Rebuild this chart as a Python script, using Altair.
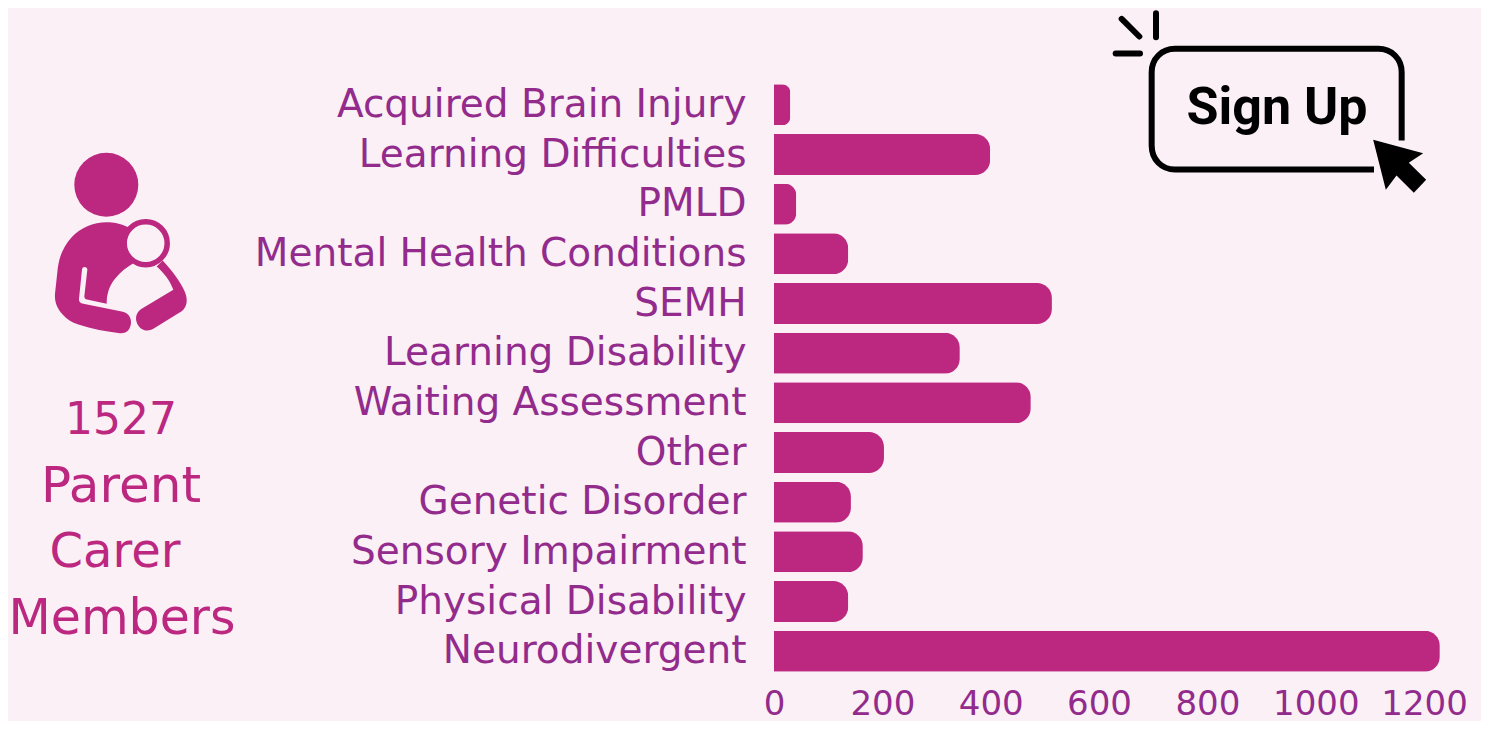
import altair as alt
import pandas as pd

categories = ["Acquired Brain Injury", "Learning Difficulties", "PMLD", "Mental Health Conditions",
              "SEMH", "Learning Disability", "Waiting Assessment", "Other", "Genetic Disorder",
              "Sensory Impairment", "Physical Disability", "Neurodivergent"]
values = [30, 399, 41, 137, 513, 343, 474, 203, 142, 164, 137, 1229]
x_ticks = [0, 200, 400, 600, 800, 1000, 1200]
members_lines = ["1527", "Parent", "Carer", "Members"]
members_x = [121, 121, 115, 122]
members_y = [421, 487, 553, 619]
members_size = [44, 50, 48, 49]

BG = "#FAF0F5"
BAR = "#BC2780"
LABEL = "#922B8C"
FONT = "DejaVu Sans"
OX, OY = 774, 80  # page position of the plot origin


def page_x(v):
    return alt.value(v - OX)


def page_y(v):
    return alt.value(v - OY)


one = alt.Data(values=[{"a": 1}])
df = pd.DataFrame({"category": categories, "value": values})

bars = alt.Chart(df).mark_bar(color=BAR, cornerRadiusTopRight=15, cornerRadiusBottomRight=15).encode(
    x=alt.X("value:Q", scale=alt.Scale(domain=[0, 1305], nice=False),
            axis=alt.Axis(values=x_ticks, format="d", title=None, grid=False, domain=False, ticks=False,
                          labelFont=FONT, labelFontSize=34, labelColor=LABEL, labelPadding=11,
                          labelOverlap=False, labelFlush=False)),
    y=alt.Y("category:N", sort=categories, scale=alt.Scale(paddingInner=0.175, paddingOuter=0.0875),
            axis=alt.Axis(title=None, grid=False, domain=False, ticks=False,
                          labelFont=FONT, labelFontSize=39, labelColor=LABEL, labelPadding=28,
                          labelLimit=700)),
)

members = alt.Chart(pd.DataFrame({"t": members_lines, "px": [v - OX for v in members_x],
                                  "py": [v - OY for v in members_y], "s": members_size})).mark_text(
    font=FONT, color=BAR, align="center", baseline="middle").encode(
    text="t:N",
    x=alt.X("px:Q", scale=None),
    y=alt.Y("py:Q", scale=None),
    size=alt.Size("s:Q", scale=None, legend=None),
)


def path_mark(path, ox, oy, **kw):
    # size 4/9 draws the path at one third of its written units (zoom-crop units)
    return alt.Chart(one).mark_point(shape=path, size=4 / 9, opacity=1, **kw).encode(
        x=page_x(ox), y=page_y(oy))


BODY = ("M385 290 C360 278 340 275 320 275 C280 275 240 292 215 320 C185 352 175 390 172 425 "
        "L165 490 C163 515 172 535 188 552 C200 566 215 576 235 582 C275 595 320 604 360 608 "
        "C380 610 393 595 393 575 C393 558 382 546 365 543 L250 520 C240 518 236 512 237 505 "
        "L246 417 C247 407 262 407 262 418 L253 497 C253 503 256 506 261 507 L320 520 "
        "C320 495 325 470 345 445 C360 425 380 410 400 398 L385 290 Z")
ARM = ("M488 390 L470 408 C490 425 510 450 520 478 L425 535 C410 545 405 560 410 575 "
       "C418 598 440 606 460 595 L545 542 C560 530 565 510 555 485 C540 450 515 420 488 390 Z")
BOX = ("M905 420 L905 215 C905 175 875 145 835 145 L225 145 C185 145 155 175 155 215 "
       "L155 435 C155 477 185 507 225 507 L822 507")
SPARK1 = "M65 55 L118 108"
SPARK2 = "M168 38 L168 110"
SPARK3 = "M47 159 L120 159"
CURSOR = "M818 418 L968 458 L925 487 L977 538 L940 577 L888 525 L856 568 Z"

head = alt.Chart(one).mark_point(shape="circle", size=64 ** 2, filled=True, color=BAR, opacity=1).encode(
    x=page_x(106.3), y=page_y(184.8))
body = path_mark(BODY, 0, 130.5, filled=True, color=BAR)
arm = path_mark(ARM, 0, 130.5, filled=True, color=BAR)
ring = alt.Chart(one).mark_point(shape="circle", size=43 ** 2, filled=True, fill=BG, stroke=BAR,
                                 strokeWidth=5.5, opacity=1).encode(
    x=page_x(145.7), y=page_y(243.2))

box = path_mark(BOX, 1100, 0.5, filled=False, fill=None, stroke="#000000", strokeWidth=6)
sparks = [path_mark(s, 1100, 0.5, filled=False, fill=None, stroke="#000000", strokeWidth=6, strokeCap="round")
          for s in (SPARK1, SPARK2, SPARK3)]
cursor = path_mark(CURSOR, 1100.5, 0.5, filled=True, color="#000000")
sign = alt.Chart(pd.DataFrame({"t": ["Sign Up"]})).mark_text(
    font="Roboto", fontWeight="bold", fontSize=52, color="#000000",
    align="center", baseline="middle").encode(
    text="t:N", x=page_x(1277), y=page_y(108))

chart = alt.layer(bars, members, head, arm, body, ring, box, *sparks, cursor, sign).resolve_scale(
    x="independent", y="independent"
).resolve_axis(x="independent", y="independent").properties(
    width=707, height=596, background=BG,
    padding={"left": OX - 8, "top": OY - 8, "right": 0, "bottom": 713 - (OY - 8) - 596},
    autosize=alt.AutoSizeParams(type="none"),
).configure_view(stroke=None)

chart.save("out.html", embed_options={"renderer": "svg", "actions": False})
